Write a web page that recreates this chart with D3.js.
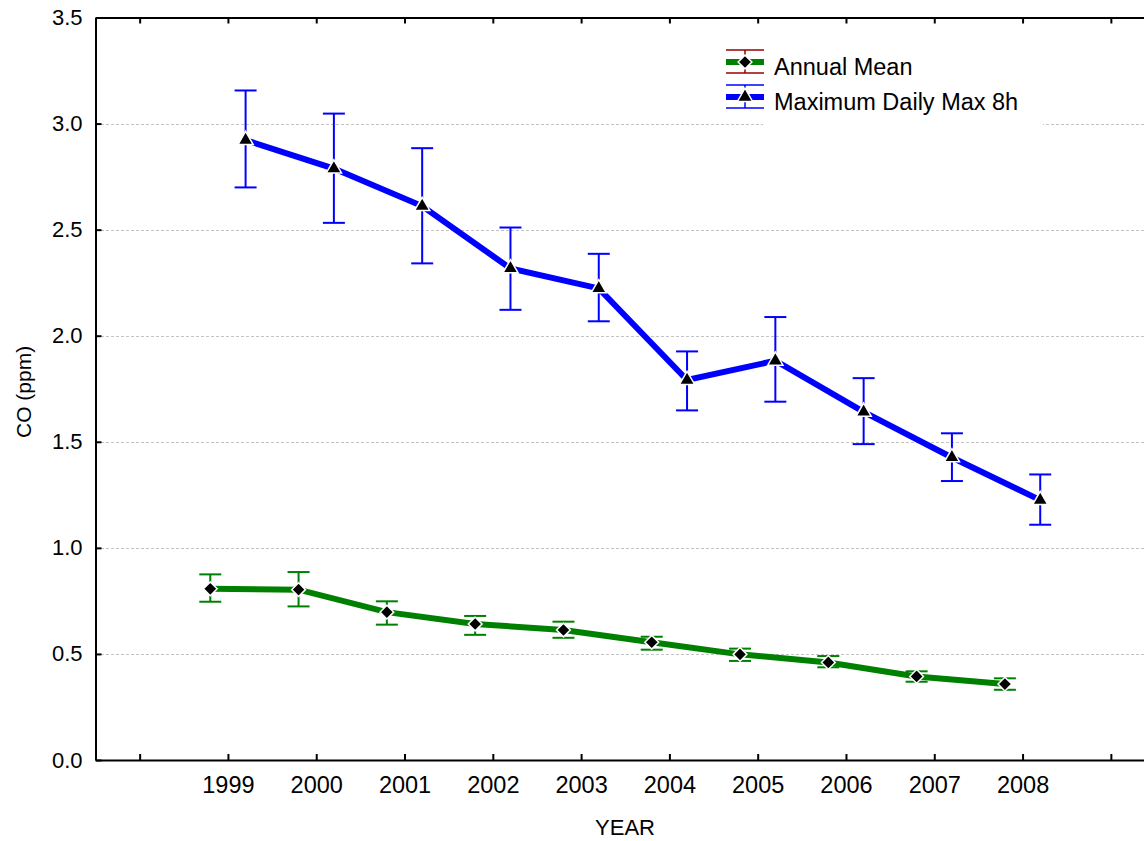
<!DOCTYPE html>
<html>
<head>
<meta charset="utf-8">
<script src="https://cdn.jsdelivr.net/npm/d3@7"></script>
<style>
  body { margin: 0; background: #fff; }
  svg { display: block; font-family: "Liberation Sans", Arial, sans-serif; }
</style>
</head>
<body>
<svg class="chart"></svg>
<script>
var width = 1144,
    height = 841;

// data
var years = [1999, 2000, 2001, 2002, 2003, 2004, 2005, 2006, 2007, 2008];
var annualMean = [0.807, 0.803, 0.697, 0.641, 0.613, 0.555, 0.498, 0.460, 0.394, 0.358];
var annualLow  = [0.746, 0.724, 0.638, 0.590, 0.576, 0.520, 0.467, 0.437, 0.369, 0.331];
var annualHigh = [0.875, 0.886, 0.748, 0.679, 0.652, 0.581, 0.525, 0.490, 0.418, 0.385];
var maxDaily = [2.922, 2.788, 2.611, 2.317, 2.223, 1.791, 1.882, 1.641, 1.426, 1.225];
var maxLow   = [2.699, 2.532, 2.341, 2.122, 2.068, 1.648, 1.689, 1.489, 1.315, 1.109];
var maxHigh  = [3.156, 3.047, 2.884, 2.510, 2.386, 1.926, 2.088, 1.800, 1.540, 1.346];
var xTicks = [1998, 1999, 2000, 2001, 2002, 2003, 2004, 2005, 2006, 2007, 2008, 2009];
var yTicks = [0, 0.5, 1, 1.5, 2, 2.5, 3, 3.5];
var seriesNames = ["Annual Mean", "Maximum Daily Max 8h"];

var x = d3.scaleLinear().domain([1997.5, 2009.5]).range([95.5, 1155]);
var y = d3.scaleLinear().domain([0, 3.5]).range([760, 17.5]);

var chart = d3.select(".chart")
    .attr("width", width)
    .attr("height", height);

// grid
chart.append("g").selectAll("line")
    .data(yTicks.filter(function(d) { return d > 0 && d < 3.5; }))
  .enter().append("line")
    .attr("x1", 96).attr("x2", width)
    .attr("y1", function(d) { return Math.round(y(d)) + 0.5; })
    .attr("y2", function(d) { return Math.round(y(d)) + 0.5; })
    .attr("stroke", "#c4c4c4")
    .attr("stroke-dasharray", "3,2");

// axes
var xAxis = d3.axisBottom(x).tickValues(xTicks).tickSizeInner(-6).tickSizeOuter(0)
    .tickFormat(function(d) { return d >= 1999 && d <= 2008 ? d : ""; });
var gx = chart.append("g").attr("transform", "translate(0,760)").call(xAxis);
gx.select(".domain").attr("stroke-width", 2);
gx.selectAll(".tick line").attr("stroke-width", 2);
gx.selectAll("text").attr("font-size", 23.5).attr("fill", "#000").attr("y", 16).attr("dy", "0.71em");

var xTop = d3.axisTop(x).tickValues(xTicks).tickSizeInner(-6).tickSizeOuter(0).tickFormat("");
var gt = chart.append("g").attr("transform", "translate(0,17.5)").call(xTop);
gt.select(".domain").attr("stroke-width", 2);
gt.selectAll(".tick line").attr("stroke-width", 2);

var yAxis = d3.axisLeft(y).tickValues(yTicks).tickSizeInner(-6).tickSizeOuter(0)
    .tickFormat(d3.format(".1f"));
var gy = chart.append("g").attr("transform", "translate(95.5,0)").call(yAxis);
gy.select(".domain").attr("stroke-width", 2);
gy.selectAll(".tick line").attr("stroke-width", 2);
gy.selectAll("text").attr("font-size", 22).attr("fill", "#000").attr("x", -13);

chart.selectAll(".domain, .tick line").attr("stroke", "#000");

// titles
chart.append("text")
    .attr("x", 625).attr("y", 835)
    .attr("text-anchor", "middle")
    .attr("font-size", 22)
    .text("YEAR");
chart.append("text")
    .attr("transform", "translate(31,438) rotate(-90)")
    .attr("text-anchor", "start")
    .attr("font-size", 21)
    .text("CO (ppm)");

// series
var series = [
  { name: seriesNames[0], mean: annualMean, lo: annualLow, hi: annualHigh, shift: -0.2, color: "#008000", bar: "#008000", marker: "diamond" },
  { name: seriesNames[1], mean: maxDaily, lo: maxLow, hi: maxHigh, shift: 0.2, color: "#0000ff", bar: "#0000ff", marker: "triangle" }
];

var diamond = d3.symbol().type(d3.symbolDiamond2).size(120);
var triangle = d3.symbol().type(d3.symbolTriangle).size(100);
var cap = 11;

series.forEach(function(s) {
  var pts = years.map(function(yr, i) {
    return { x: x(yr + s.shift), v: s.mean[i], lo: s.lo[i], hi: s.hi[i] };
  });
  var g = chart.append("g");

  var eb = g.selectAll(".eb").data(pts).enter().append("g")
      .attr("stroke", s.bar).attr("stroke-width", 2).attr("fill", "none");
  eb.append("line")
      .attr("x1", function(d) { return d.x; }).attr("x2", function(d) { return d.x; })
      .attr("y1", function(d) { return y(d.lo); }).attr("y2", function(d) { return y(d.hi); });
  eb.append("line")
      .attr("x1", function(d) { return d.x - cap; }).attr("x2", function(d) { return d.x + cap; })
      .attr("y1", function(d) { return y(d.lo); }).attr("y2", function(d) { return y(d.lo); });
  eb.append("line")
      .attr("x1", function(d) { return d.x - cap; }).attr("x2", function(d) { return d.x + cap; })
      .attr("y1", function(d) { return y(d.hi); }).attr("y2", function(d) { return y(d.hi); });

  g.append("path")
      .datum(pts)
      .attr("fill", "none")
      .attr("stroke", s.color)
      .attr("stroke-width", 6)
      .attr("d", d3.line().x(function(d) { return d.x; }).y(function(d) { return y(d.v); }));

  g.selectAll(".pt").data(pts).enter().append("path")
      .attr("transform", function(d) { return "translate(" + d.x + "," + y(d.v) + ")"; })
      .attr("d", s.marker === "diamond" ? diamond : triangle)
      .attr("fill", "#000")
      .attr("stroke", "#fff")
      .attr("stroke-width", 1.5);
});

// legend
chart.append("rect")
    .attr("x", 763).attr("y", 40).attr("width", 280).attr("height", 86)
    .attr("fill", "#fff");

var legendRows = [
  { name: seriesNames[0], cy: 62, base: 75, line: "#008000", bar: "#990000", marker: diamond },
  { name: seriesNames[1], cy: 97, base: 110, line: "#0000ff", bar: "#0000ff", marker: triangle }
];
var lg = chart.selectAll(".legend").data(legendRows).enter().append("g");
lg.append("line")
    .attr("x1", 745).attr("x2", 745)
    .attr("y1", function(d) { return d.cy - 12; }).attr("y2", function(d) { return d.cy + 11; })
    .attr("stroke", function(d) { return d.bar; }).attr("stroke-width", 1.5);
lg.append("line")
    .attr("x1", 726).attr("x2", 764)
    .attr("y1", function(d) { return d.cy - 12; }).attr("y2", function(d) { return d.cy - 12; })
    .attr("stroke", function(d) { return d.bar; }).attr("stroke-width", 1.5);
lg.append("line")
    .attr("x1", 726).attr("x2", 764)
    .attr("y1", function(d) { return d.cy + 11; }).attr("y2", function(d) { return d.cy + 11; })
    .attr("stroke", function(d) { return d.bar; }).attr("stroke-width", 1.5);
lg.append("line")
    .attr("x1", 726).attr("x2", 764)
    .attr("y1", function(d) { return d.cy; }).attr("y2", function(d) { return d.cy; })
    .attr("stroke", function(d) { return d.line; }).attr("stroke-width", 6);
lg.append("path")
    .attr("transform", function(d) { return "translate(745," + d.cy + ")"; })
    .attr("d", function(d) { return d.marker(); })
    .attr("fill", "#000").attr("stroke", "#fff").attr("stroke-width", 1.5);
lg.append("text")
    .attr("x", 774).attr("y", function(d) { return d.base; })
    .attr("font-size", 23.5)
    .text(function(d) { return d.name; });
</script>
</body>
</html>
